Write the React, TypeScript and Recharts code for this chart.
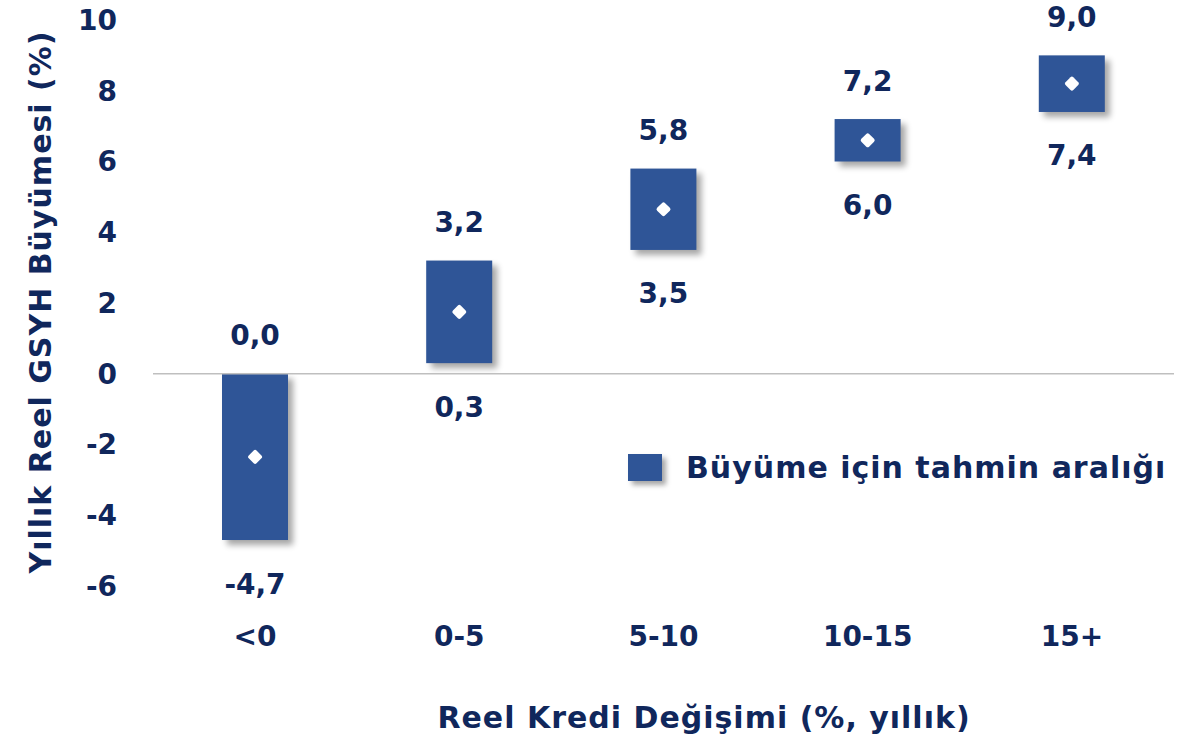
import React from "react";
import {
  ComposedChart,
  Bar,
  Line,
  XAxis,
  YAxis,
  ReferenceLine,
  LabelList,
} from "recharts";

const CATEGORIES = ["<0", "0-5", "5-10", "10-15", "15+"];
const LOW = [-4.7, 0.3, 3.5, 6.0, 7.4];
const HIGH = [0.0, 3.2, 5.8, 7.2, 9.0];
const MID = [-2.35, 1.75, 4.65, 6.6, 8.2];
const Y_TICKS = [-6, -4, -2, 0, 2, 4, 6, 8, 10];

const data = CATEGORIES.map((c, i) => ({
  name: c,
  range: [LOW[i], HIGH[i]],
  low: LOW[i],
  high: HIGH[i],
  mid: MID[i],
}));

const NAVY = "#10275c";
const BLUE = "#2f5597";
const FONT = "'DejaVu Sans', sans-serif";

const fmt = (v: number) => v.toFixed(1).replace(".", ",");

const BarShape = (props: any) => {
  const { x, y, width, height } = props;
  const top = Math.min(y, y + height);
  const h = Math.abs(height);
  return (
    <g>
      <defs>
        <filter id="barShadow" x="-30%" y="-30%" width="160%" height="160%">
          <feGaussianBlur stdDeviation="3" />
        </filter>
      </defs>
      <rect x={x + 5} y={top + 5} width={width} height={h} fill="#000" opacity={0.35} filter="url(#barShadow)" />
      <rect x={x} y={top} width={width} height={h} fill={BLUE} />
    </g>
  );
};

const Diamond = (props: any) => {
  const { cx, cy, index } = props;
  if (cx == null || cy == null) return null;
  return (
    <rect
      key={index}
      x={cx - 5.5}
      y={cy - 5.5}
      width={11}
      height={11}
      rx={2}
      fill="#fff"
      transform={`rotate(45 ${cx} ${cy})`}
    />
  );
};

const TopLabel = (props: any) => {
  const { x, y, width, height, value } = props;
  const top = Math.min(y, y + height);
  return (
    <text x={x + width / 2} y={top - 38} textAnchor="middle" dominantBaseline="central" fill={NAVY} fontSize={28} fontWeight="bold" fontFamily={FONT}>
      {fmt(value)}
    </text>
  );
};

const BottomLabel = (props: any) => {
  const { x, y, width, height, value } = props;
  const bottom = Math.max(y, y + height);
  return (
    <text x={x + width / 2} y={bottom + 44} textAnchor="middle" dominantBaseline="central" fill={NAVY} fontSize={28} fontWeight="bold" fontFamily={FONT}>
      {fmt(value)}
    </text>
  );
};

export default function App() {
  return (
    <div style={{ position: "absolute", left: 0, top: 0, width: 1201, height: 740 }}>
      <ComposedChart width={1201} height={740} data={data} margin={{ top: 20, right: 27, bottom: 124, left: 0 }}>
        <XAxis
          dataKey="name"
          height={30}
          axisLine={false}
          tickLine={false}
          tickSize={0}
          tickMargin={40}
          tick={{ fill: NAVY, fontSize: 28, fontWeight: "bold", fontFamily: FONT }}
          label={{
            content: () => (
              <text x={704} y={717} textAnchor="middle" dominantBaseline="central" fill={NAVY} fontSize={30} fontWeight="bold" fontFamily={FONT} letterSpacing={1}>
                Reel Kredi Değişimi (%, yıllık)
              </text>
            ),
          }}
        />
        <YAxis
          domain={[-6, 10]}
          ticks={Y_TICKS}
          width={153}
          axisLine={false}
          tickLine={false}
          tickSize={0}
          tickMargin={36}
          tick={{ fill: NAVY, fontSize: 28, fontWeight: "bold", fontFamily: FONT }}
          label={{
            content: () => (
              <text x={40} y={302} transform="rotate(-90 40 302)" textAnchor="middle" dominantBaseline="central" fill={NAVY} fontSize={30} fontWeight="bold" fontFamily={FONT} letterSpacing={1}>
                Yıllık Reel GSYH Büyümesi (%)
              </text>
            ),
          }}
        />
        <ReferenceLine y={0} stroke="#bfbfbf" strokeWidth={1.5} />
        <Bar dataKey="range" barSize={66} shape={<BarShape />} isAnimationActive={false}>
          <LabelList dataKey="high" content={<TopLabel />} />
          <LabelList dataKey="low" content={<BottomLabel />} />
        </Bar>
        <Line dataKey="mid" stroke="none" dot={<Diamond />} activeDot={false} isAnimationActive={false} legendType="none" />
      </ComposedChart>
      <div
        style={{
          position: "absolute",
          left: 628,
          top: 450,
          display: "flex",
          alignItems: "center",
          fontFamily: FONT,
          fontWeight: "bold",
          fontSize: 30,
          letterSpacing: 1,
          color: NAVY,
          whiteSpace: "nowrap",
        }}
      >
        <div style={{ width: 34, height: 27, background: BLUE, boxShadow: "4px 4px 5px rgba(0,0,0,0.35)", marginRight: 24 }} />
        <span>Büyüme için tahmin aralığı</span>
      </div>
    </div>
  );
}
